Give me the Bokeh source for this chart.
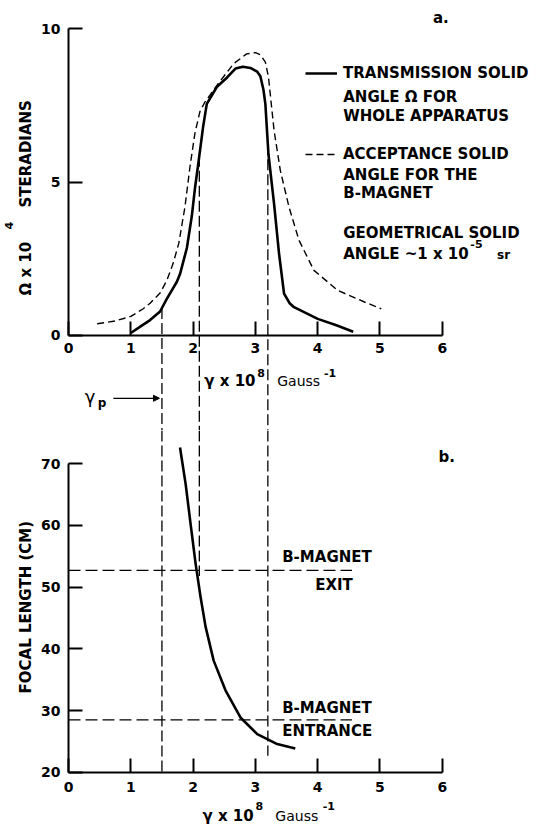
import numpy as np
from bokeh.plotting import figure
from bokeh.models import (Range1d, FixedTicker, Label, Arrow, NormalHead,
                          Legend, LegendItem)
from bokeh.layouts import column
from bokeh.embed import file_html
from bokeh.resources import INLINE

# ---------------- data ----------------
x_ticks = [0, 1, 2, 3, 4, 5, 6]
omega_ticks = [0, 5, 10]
focal_ticks = [20, 30, 40, 50, 60, 70]

# (a) transmission solid angle, whole apparatus (Omega x 1e4 sr)
trans_x = [1.0, 1.2, 1.31, 1.47, 1.58, 1.74, 1.79, 1.90, 1.98, 2.03, 2.09,
           2.16, 2.22, 2.38, 2.55, 2.68, 2.80, 2.92, 3.03, 3.08, 3.13, 3.16,
           3.21, 3.30, 3.38, 3.46, 3.55, 3.62, 4.0, 4.3, 4.57]
trans_y = [0.08, 0.35, 0.50, 0.78, 1.20, 1.75, 2.00, 2.85, 3.90, 4.80, 5.70,
           6.79, 7.55, 8.10, 8.42, 8.70, 8.76, 8.72, 8.60, 8.45, 8.00, 7.55,
           5.90, 4.29, 2.66, 1.36, 1.05, 0.92, 0.54, 0.33, 0.12]

# (a) acceptance solid angle for the B-magnet
accept_x = [0.46, 0.75, 1.0, 1.2, 1.31, 1.47, 1.58, 1.68, 1.77, 1.87, 1.95,
            2.03, 2.11, 2.19, 2.40, 2.65, 2.86, 3.0, 3.08, 3.16, 3.21, 3.30,
            3.40, 3.54, 3.70, 3.94, 4.32, 4.75, 5.02]
accept_y = [0.38, 0.47, 0.62, 0.87, 1.05, 1.38, 1.80, 2.35, 3.00, 4.20, 5.50,
            6.60, 7.30, 7.61, 8.20, 8.86, 9.18, 9.22, 9.15, 8.91, 8.42, 6.68,
            5.38, 4.18, 3.10, 2.12, 1.47, 1.09, 0.87]

# (b) focal length (cm)
focal_x = [1.79, 1.88, 1.96, 2.04, 2.12, 2.20, 2.33, 2.52, 2.76, 3.03, 3.35,
           3.64]
focal_y = [72.6, 66.7, 60.2, 53.8, 48.4, 43.6, 38.1, 33.3, 28.9, 26.2, 24.6,
           23.9]

# vertical guide lines (gamma_p and the band edges)
marker_x = [1.5, 2.1, 3.2]
marker_focal_end = [20.0, 51.8, 22.7]

# B-magnet exit / entrance focal lengths
magnet_y = [52.7, 28.5]
magnet_x_end = [4.55, 4.55]

# ---------------- styling helpers ----------------
FONT = "DejaVu Sans"
X_RNG = (-1.0915, 7.737)
TOP_Y = (-3.10, 10.92)
BOT_Y = (11.10, 75.34)


def style_axis(ax, ticks, bounds, loc):
    ax.fixed_location = loc
    ax.ticker = FixedTicker(ticks=ticks)
    ax.bounds = bounds
    ax.axis_line_width = 2
    ax.axis_line_color = "black"
    ax.major_tick_line_width = 2
    ax.major_tick_line_color = "black"
    ax.major_tick_in = 14
    ax.major_tick_out = 0
    ax.minor_tick_in = 0
    ax.minor_tick_out = 0
    ax.minor_tick_line_color = None
    ax.major_label_text_font = FONT
    ax.major_label_text_font_style = "bold"
    ax.major_label_text_font_size = "14px"
    ax.major_label_text_color = "black"
    ax.major_label_standoff = 8


def lab(p, text, x, y, size=15, style="bold", angle=0.0, align="left"):
    p.add_layout(Label(x=x, y=y, text=text, angle=angle, text_align=align,
                       text_baseline="middle", text_font=FONT,
                       text_font_style=style, text_font_size=f"{size}px",
                       text_color="black"))


x_range = Range1d(*X_RNG)


def base_fig(height, y_rng):
    p = figure(width=550, height=height, x_range=x_range,
               y_range=Range1d(*y_rng), output_backend="svg",
               toolbar_location=None, min_border=0, min_border_left=0,
               min_border_right=0, min_border_top=0, min_border_bottom=0)
    p.xgrid.visible = False
    p.ygrid.visible = False
    p.outline_line_color = None
    p.background_fill_color = "white"
    p.border_fill_color = "white"
    return p


# ---------------- (a) solid angle ----------------
p1 = base_fig(430, TOP_Y)
style_axis(p1.xaxis[0], x_ticks, (0, 6), 0)
style_axis(p1.yaxis[0], omega_ticks, (0, 10), 0)

marker_top = np.interp(marker_x, trans_x, trans_y)
p1.segment(x0=marker_x, y0=marker_top, x1=marker_x,
           y1=[TOP_Y[0]] * len(marker_x), line_color="black",
           line_width=1.3, line_dash="11 4")

solid_r = p1.line(trans_x, trans_y, line_color="black", line_width=2.6,
                  line_join="round")
dash_r = p1.line(accept_x, accept_y, line_color="black", line_width=1.4,
                 line_dash="7 4", line_join="round")

legend = Legend(items=[LegendItem(label="TRANSMISSION SOLID", renderers=[solid_r]),
                       LegendItem(label="ACCEPTANCE SOLID", renderers=[dash_r])],
                location=(305, 266), orientation="vertical", spacing=61,
                padding=0, margin=0, glyph_width=32, glyph_height=20,
                label_height=20, label_standoff=6, border_line_color=None,
                background_fill_alpha=0, label_text_font=FONT,
                label_text_font_style="bold", label_text_font_size="15px",
                label_text_color="black")
p1.add_layout(legend)

lab(p1, "a.", 5.85, 10.35)
lab(p1, "ANGLE \u03a9 FOR", 4.41, 7.76)
lab(p1, "WHOLE APPARATUS", 4.41, 7.17)
lab(p1, "ANGLE FOR THE", 4.41, 5.22)
lab(p1, "B-MAGNET", 4.41, 4.63)
lab(p1, "GEOMETRICAL SOLID", 4.41, 3.33)
lab(p1, "ANGLE ~1 x 10", 4.41, 2.67)
lab(p1, "-5", 6.45, 2.97, size=11)
lab(p1, "sr", 6.88, 2.62, size=12)

# y-axis title of (a), with superscript
lab(p1, "\u03a9 x 10", -0.69, 1.30, angle=np.pi / 2)
lab(p1, "4", -0.95, 3.45, size=11, angle=np.pi / 2)
lab(p1, "STERADIANS", -0.69, 4.17, angle=np.pi / 2)

# x-axis title of (a)
lab(p1, "\u03b3 x 10", 2.18, -1.50)
lab(p1, "8", 3.03, -1.21, size=11)
lab(p1, "Gauss", 3.35, -1.50, size=14, style="normal")
lab(p1, "-1", 4.10, -1.21, size=11)

# gamma_p pointer
lab(p1, "\u03b3", 0.26, -1.99, size=18, style="normal")
lab(p1, "p", 0.47, -2.20, size=12)
p1.add_layout(Arrow(end=NormalHead(size=6, fill_color="black",
                                   line_color="black", line_width=1),
                    x_start=0.72, y_start=-2.05, x_end=1.46, y_end=-2.05,
                    line_color="black", line_width=1.2))

# ---------------- (b) focal length ----------------
p2 = base_fig(397, BOT_Y)
style_axis(p2.xaxis[0], x_ticks, (0, 6), 20)
style_axis(p2.yaxis[0], focal_ticks, (20, 70), 0)
p2.xaxis[0].major_label_standoff = 10

p2.segment(x0=marker_x, y0=[BOT_Y[1]] * len(marker_x), x1=marker_x,
           y1=marker_focal_end, line_color="black", line_width=1.3,
           line_dash="11 4")
p2.segment(x0=[0] * len(magnet_y), y0=magnet_y, x1=magnet_x_end, y1=magnet_y,
           line_color="black", line_width=1.3, line_dash="12 5")
p2.line(focal_x, focal_y, line_color="black", line_width=2.6,
        line_join="round")

lab(p2, "b.", 5.94, 71.0)
lab(p2, "B-MAGNET", 3.43, 54.8)
lab(p2, "EXIT", 3.96, 50.3)
lab(p2, "B-MAGNET", 3.43, 30.5)
lab(p2, "ENTRANCE", 3.43, 26.7)

lab(p2, "FOCAL LENGTH (CM)", -0.69, 32.8, angle=np.pi / 2)

lab(p2, "\u03b3 x 10", 2.15, 12.88)
lab(p2, "8", 3.00, 14.5, size=11)
lab(p2, "Gauss", 3.32, 12.88, size=14, style="normal")
lab(p2, "-1", 4.08, 14.5, size=11)

layout = column(p1, p2, spacing=0)
open("out.html", "w").write(file_html(layout, INLINE))
